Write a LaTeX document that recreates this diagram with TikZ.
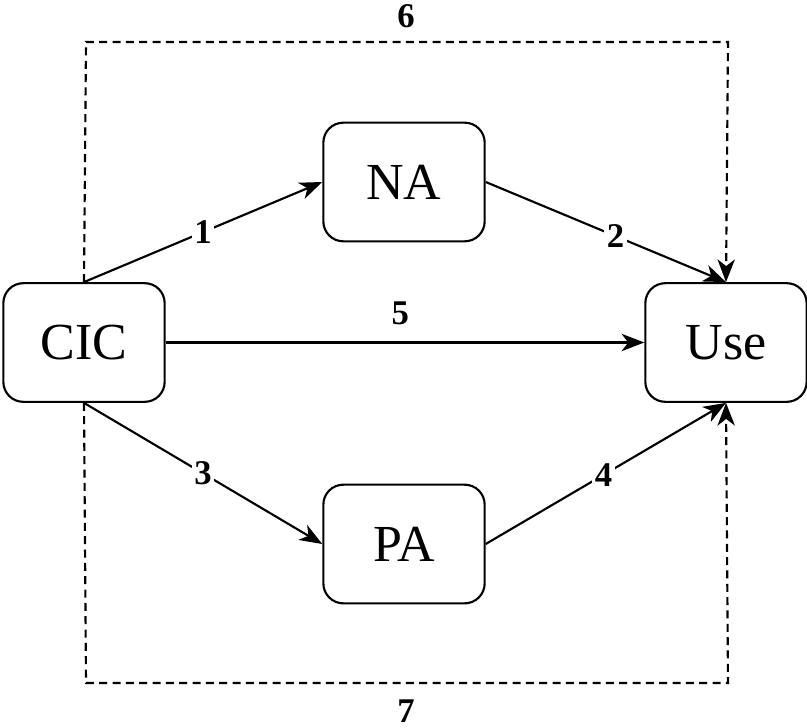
\documentclass[tikz,border=0pt]{standalone}
\usepackage{fontspec}
\setmainfont{Liberation Serif}
\usetikzlibrary{arrows.meta}
\begin{document}
\begin{tikzpicture}[x=0.75pt,y=-0.75pt,
  box/.style={draw, line width=1.6pt, rounded corners=15pt, minimum width=121pt,
    minimum height=89pt, inner sep=0pt, font=\fontsize{39}{41}\selectfont},
  conn/.style={line width=1.6pt, -{Stealth[length=17pt,width=13pt,inset=5pt]}},
  dconn/.style={conn, dashed, dash pattern=on 6pt off 4pt},
  lbl/.style={fill=white, inner sep=2pt, font=\fontsize{26}{28}\selectfont\bfseries}]
\useasboundingbox (0,0) rectangle (807,728);
\node[box] (cic) at (84,342.5) {CIC};
\node[box] (na) at (404,182) {NA};
\node[box] (pa) at (404,544) {PA};
\node[box] (use) at (726,342.5) {Use};
\coordinate (tl) at (86,42);
\coordinate (tr) at (728,42);
\coordinate (bl) at (86,683);
\coordinate (br) at (728,683);
\draw[conn] (cic.north) -- node[lbl, pos=0.5] {1} (na.west);
\draw[conn] (na.east) -- node[lbl, pos=0.54] {2} (use.north);
\draw[conn] (cic.east) -- node[lbl, pos=0.49, yshift=22pt] {5} (use.west);
\draw[conn] (cic.south) -- node[lbl, pos=0.5] {3} (pa.west);
\draw[conn] (pa.east) -- node[lbl, pos=0.49] {4} (use.south);
\draw[dconn] (cic.north) -- (tl) -- (tr) -- (use.north);
\draw[dconn] (cic.south) -- (bl) -- (br) -- (use.south);
\node[lbl] (six) at (406,16) {6};
\node[lbl] (seven) at (406,711) {7};
\end{tikzpicture}
\end{document}
